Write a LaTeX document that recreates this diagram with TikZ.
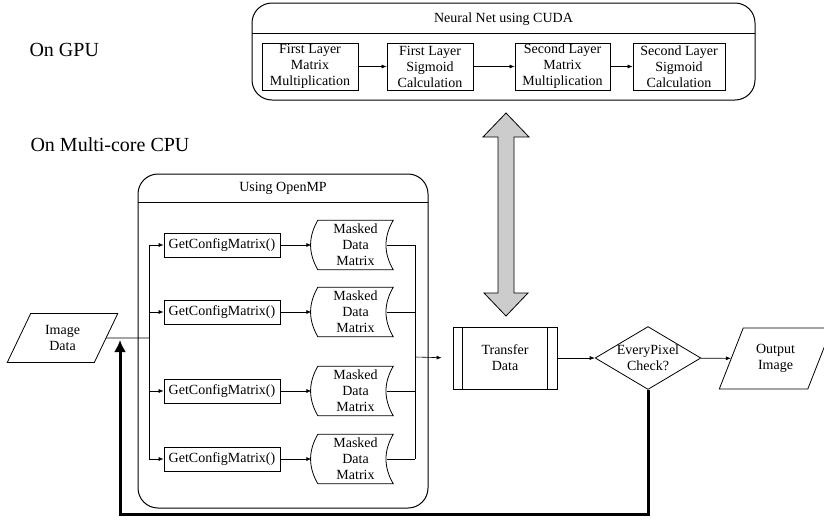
\documentclass[tikz,border=0pt]{standalone}
\usepackage{fontspec}
\setmainfont{Liberation Serif}
\usetikzlibrary{arrows.meta,shapes.geometric,calc}
\begin{document}
\begin{tikzpicture}[x=1pt,y=-1pt,
  every node/.style={font=\fontsize{14}{16}\selectfont, align=center},
  big/.style={font=\fontsize{20}{24}\selectfont, anchor=west},
  box/.style={draw, line width=0.8pt, inner sep=1pt},
  frame/.style={draw, line width=1pt, rounded corners=20pt, inner sep=0pt},
  datashape/.style={draw, line width=0.8pt, trapezium, trapezium left angle=63,
    trapezium right angle=117, trapezium stretches=true, inner sep=0pt},
  link/.style={line width=0.6pt, -{Latex[length=5pt,width=4pt]}},
  wire/.style={line width=0.6pt},
  feedback/.style={line width=3pt, -{Latex[length=12pt,width=12pt]}},
  fatarrow/.style={draw, line width=0.8pt, fill=black!20},
]
\useasboundingbox (0,0) rectangle (824,528);

% side labels
\node[big] (gpu) at (26,50) {On GPU};
\node[big] (cpu) at (27,145) {On Multi-core CPU};

% GPU part
\node[frame, minimum width=503pt, minimum height=97pt] (cuda) at (503.5,51.5) {};
\draw[line width=0.8pt] (252,33) -- (755,33);
\node (cudatitle) at (503.5,19) {Neural Net using CUDA};

\node[box, minimum width=96pt, minimum height=47pt] (l1m) at (310,66.5) {First Layer\\Matrix\\Multiplication};
\node[box, minimum width=86pt, minimum height=47pt] (l1s) at (430,66.5) {First Layer\\Sigmoid\\Calculation};
\node[box, minimum width=95pt, minimum height=47pt] (l2m) at (562.5,66.5) {Second Layer\\Matrix\\Multiplication};
\node[box, minimum width=92pt, minimum height=47pt] (l2s) at (679,66.5) {Second Layer\\Sigmoid\\Calculation};
\draw[link] (l1m) -- (l1s);
\draw[link] (l1s) -- (l2m);
\draw[link] (l2m) -- (l2s);

% CPU part
\node[frame, minimum width=290pt, minimum height=334pt] (omp) at (283,341) {};
\draw[line width=0.8pt] (138,202) -- (428,202);
\node (omptitle) at (283,188) {Using OpenMP};

\node[datashape, minimum width=111pt, minimum height=49pt] (img) at (62.5,338) {Image\\Data};

\coordinate (bus) at (149,338);
\coordinate (coll) at (415,357);

\foreach \i/\y in {1/245,2/312,3/391,4/459} {
  \node[box, minimum width=116pt, minimum height=24pt] (g\i) at (222,\y) {GetConfigMatrix()};
  \node[minimum width=75pt, minimum height=49pt, inner sep=0pt] (m\i) at (355.5,\y) {Masked\\Data\\Matrix};
  \draw[line width=0.8pt] (m\i.north west) to[bend right=30] (m\i.south west)
    -- (m\i.south east) to[bend left=30] (m\i.north east) -- cycle;
  \draw[link] (g\i -| bus) -- (g\i);
  \draw[link] (g\i) -- ([xshift=-6.5pt]m\i.west);
  \draw[wire] ([xshift=-6.5pt]m\i.east) -- (m\i -| coll);
}
\draw[wire] (img) -- (bus);
\draw[wire] (g1 -| bus) -- (g4 -| bus);
\draw[wire] (m1 -| coll) -- (m4 -| coll);

\node[box, minimum width=104pt, minimum height=62pt] (xfer) at (505,358) {Transfer\\Data};
\draw[line width=0.8pt] ([xshift=10pt]xfer.north west) -- ([xshift=10pt]xfer.south west);
\draw[line width=0.8pt] ([xshift=-10pt]xfer.north east) -- ([xshift=-10pt]xfer.south east);
\draw[link, shorten >=11pt] (coll) -- (xfer.west);

\node[draw, diamond, aspect=1.68, inner sep=0pt, line width=0.8pt] (check) at (648,358) {EveryPixel\\Check?};
\node[datashape, minimum width=113pt, minimum height=61pt] (out) at (775.5,358.5) {Output\\Image};
\draw[link] (xfer) -- (check);
\draw[link] (check) -- (out);

% data exchange between CPU and GPU
\draw[fatarrow] (506,113) -- (529,137) -- (514,137) -- (514,293) -- (528,293) -- (506,316)
  -- (484,293) -- (498,293) -- (498,137) -- (483,137) -- cycle;

% loop back for the next pixel
\coordinate (fbl) at (120,514);
\coordinate (fbtip) at (120,340);
\draw[feedback] (check.south) |- (fbl) -- (fbtip);
\end{tikzpicture}
\end{document}
